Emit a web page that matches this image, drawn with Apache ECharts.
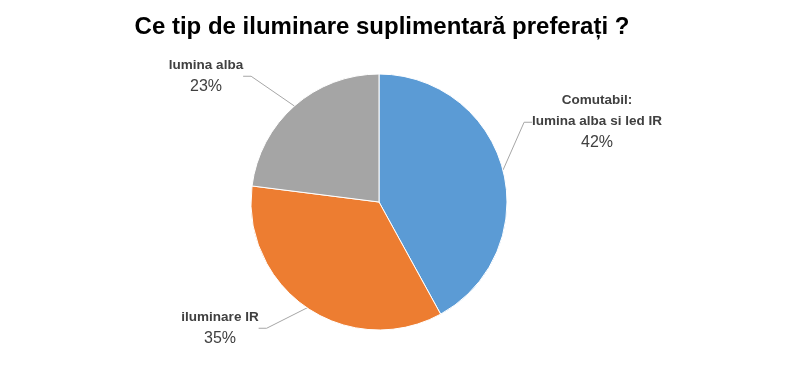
<!DOCTYPE html>
<html><head><meta charset="utf-8">
<script src="https://cdn.jsdelivr.net/npm/echarts@6/dist/echarts.min.js"></script>
<style>html,body{margin:0;padding:0;background:#fff}#c{width:800px;height:368px}</style>
</head><body><div id="c"></div>
<script>
var titleText = 'Ce tip de iluminare suplimentară preferați ?';
var categories = ['Comutabil:\nlumina alba si led IR', 'iluminare IR', 'lumina alba'];
var values = [42, 35, 23];
var colors = ['#5B9BD5', '#ED7D31', '#A5A5A5'];

var chart = echarts.init(document.getElementById('c'));
var labelPos = [
  {x: 597, y: 122, align: 'center', verticalAlign: 'middle'},
  {x: 220, y: 328, align: 'center', verticalAlign: 'middle'},
  {x: 206, y: 76, align: 'center', verticalAlign: 'middle'}
];
chart.setOption({
  animation: false,
  title: {
    text: titleText, left: 377, top: 10, textAlign: 'center',
    textStyle: {fontFamily: 'Liberation Sans, Arial', fontSize: 24, fontWeight: 'bold', color: '#000'}
  },
  series: [{
    type: 'pie',
    center: [379, 202],
    radius: [0, 128],
    startAngle: 90,
    clockwise: true,
    data: categories.map(function (c, i) {
      return {name: c, value: values[i], itemStyle: {color: colors[i]}};
    }),
    itemStyle: {borderColor: '#fff', borderWidth: 1},
    label: {
      show: true, position: 'outside',
      formatter: function (p) {
        var lines = p.name.split('\n').map(function (l) { return '{n|' + l + '}'; });
        return lines.join('\n') + '\n{p|' + p.percent.toFixed(0) + '%}';
      },
      rich: {
        n: {fontFamily: 'Liberation Sans, Arial', fontSize: 13.5, fontWeight: 'bold', color: '#404040', lineHeight: 21},
        p: {fontFamily: 'Liberation Sans, Arial', fontSize: 16, color: '#404040', lineHeight: 22}
      }
    },
    labelLine: {show: true, length: 12, length2: 8, lineStyle: {color: '#A6A6A6', width: 1}},
    labelLayout: function (params) {
      return labelPos[params.dataIndex];
    }
  }]
});
</script></body></html>
